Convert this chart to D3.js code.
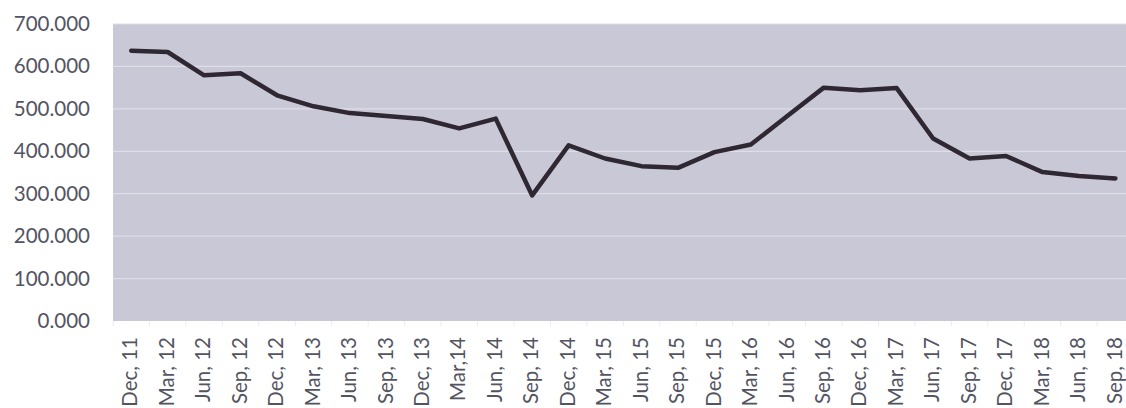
<!DOCTYPE html>
<html>
<head>
<meta charset="utf-8">
<script src="https://cdn.jsdelivr.net/npm/d3@7"></script>
<style>
  html, body { margin: 0; padding: 0; background: #ffffff; }
  svg { display: block; }
</style>
</head>
<body>
<svg id="chart" width="1126" height="408"></svg>
<script>
const categories = ["Dec, 11","Mar, 12","Jun, 12","Sep, 12","Dec, 12","Mar, 13","Jun, 13","Sep, 13","Dec, 13","Mar,14","Jun, 14","Sep, 14","Dec, 14","Mar, 15","Jun, 15","Sep, 15","Dec, 15","Mar, 16","Jun, 16","Sep, 16","Dec, 16","Mar, 17","Jun, 17","Sep, 17","Dec, 17","Mar, 18","Jun, 18","Sep, 18"];
const values = [637, 634, 579, 584, 532, 506, 490, 483, 476, 454, 477, 296, 414, 383, 365, 361, 398, 416, 483, 550, 544, 549, 430, 383, 389, 351, 342, 336];
const yTicks = [0, 100, 200, 300, 400, 500, 600, 700];

const svg = d3.select("#chart");
const pLeft = 113, pTop = 24, pBottom = 321, band = 36.45;
const x = d3.scaleBand().domain(categories).range([pLeft, pLeft + band * categories.length]);
const y = d3.scaleLinear().domain([0, 700]).range([pBottom, pTop]);

svg.append("rect")
  .attr("x", pLeft).attr("y", pTop)
  .attr("width", band * categories.length).attr("height", pBottom - pTop)
  .attr("fill", "#c9c8d7");

svg.append("g").selectAll("line").data(yTicks.slice(1)).join("line")
  .attr("x1", pLeft).attr("x2", pLeft + band * categories.length)
  .attr("y1", d => y(d)).attr("y2", d => y(d))
  .attr("stroke", "#dedde8").attr("stroke-width", 1.2);

svg.append("g").selectAll("line").data(categories.concat([null])).join("line")
  .attr("x1", (d, i) => pLeft + i * band).attr("x2", (d, i) => pLeft + i * band)
  .attr("y1", pBottom).attr("y2", pBottom + 5)
  .attr("stroke", "#ececf0").attr("stroke-width", 1);

const yAxis = svg.append("g")
  .attr("transform", `translate(${pLeft - 23},0)`)
  .call(d3.axisLeft(y).tickValues(yTicks).tickSize(0).tickPadding(0).tickFormat(d => d3.format(".3f")(d)));
yAxis.select(".domain").remove();
yAxis.selectAll("text")
  .attr("font-family", "Lato, 'Open Sans', sans-serif")
  .attr("font-size", 20.5)
  .attr("fill", "#535462");

const xAxis = svg.append("g")
  .attr("transform", `translate(0,${pBottom})`)
  .call(d3.axisBottom(x).tickSize(0).tickPadding(0));
xAxis.select(".domain").remove();
xAxis.selectAll("text")
  .attr("font-family", "Lato, 'Open Sans', sans-serif")
  .attr("font-size", 20.5)
  .attr("fill", "#535462")
  .attr("text-anchor", "end")
  .attr("dy", "0.35em")
  .attr("transform", "translate(-1,16) rotate(-90)")
  .attr("x", 0).attr("y", 0);

const line = d3.line()
  .x((d, i) => x(categories[i]) + x.bandwidth() / 2)
  .y(d => y(d));

svg.append("path")
  .datum(values)
  .attr("d", line)
  .attr("fill", "none")
  .attr("stroke", "#2f2731")
  .attr("stroke-width", 4.5)
  .attr("stroke-linejoin", "round")
  .attr("stroke-linecap", "round");
</script>
</body>
</html>
